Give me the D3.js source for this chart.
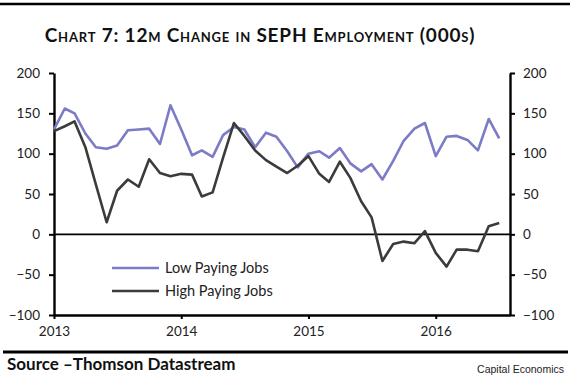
<!DOCTYPE html>
<html>
<head>
<meta charset="utf-8">
<script src="https://cdn.jsdelivr.net/npm/d3@7"></script>
<style>
  body { margin: 0; background: #fff; }
  svg { display: block; }
  .tick text { font-family: Lato, "Open Sans", sans-serif; font-size: 13.5px; fill: #222; }
</style>
</head>
<body>
<svg width="570" height="376"></svg>
<script>
// monthly, Jan 2013 .. Jul 2016
lowPaying = [130, 156, 150, 125, 108, 106, 110, 129, 130, 131, 112, 160,
             130, 98, 104, 96, 123, 133, 130, 108, 126, 121, 103, 83,
             100, 103, 95, 107, 88, 78, 87, 68, 91, 116, 131, 138,
             97, 121, 122, 117, 104, 143, 119];
highPaying = [128, 134, 140, 108, 62, 15, 54, 68, 59, 93, 76, 72,
              75, 74, 47, 52, 95, 138, 122, 104, 92, 84, 76, 85,
              97, 75, 65, 90, 70, 41, 21, -33, -12, -9, -11, 4,
              -23, -40, -19, -19, -21, 10, 14];
yTicks = [-100, -50, 0, 50, 100, 150, 200];
seriesNames = ['Low Paying Jobs', 'High Paying Jobs'];
seriesColors = ['#7b7bc6', '#3b3b3b'];

START = new Date(2013, 0, 1)
months = lowPaying.map(function (d, i) { return d3.timeMonth.offset(START, i); })

X_LEFT = 54
X_RIGHT = 510
Y_TOP = 73
Y_BOTTOM = 315

svg = d3.select('svg')

x = d3.scaleTime()
  .domain([START, new Date(2016, 7, 1)])
  .range([X_LEFT, X_RIGHT])
y = d3.scaleLinear()
  .domain([-100, 200])
  .range([Y_BOTTOM, Y_TOP])

// top rule + title
svg.append('line')
  .attr('x1', 0).attr('x2', 570).attr('y1', 4).attr('y2', 4)
  .attr('stroke', '#000').attr('stroke-width', 2.5)

svg.append('text')
  .attr('x', 260).attr('y', 42)
  .attr('text-anchor', 'middle')
  .style('font-family', 'Lato, sans-serif')
  .style('font-weight', 'bold')
  .style('font-size', '19px')
  .style('letter-spacing', '0.8px')
  .style('font-variant', 'small-caps')
  .style('fill', '#111')
  .text('Chart 7: 12m Change in SEPH Employment (000s)')

// zero line
svg.append('line')
  .attr('x1', X_LEFT).attr('x2', X_RIGHT)
  .attr('y1', y(0)).attr('y2', y(0))
  .attr('stroke', '#000').attr('stroke-width', 1.6)

// axes
yLeft = svg.append('g')
  .attr('transform', 'translate(' + X_LEFT + ',0)')
  .call(d3.axisLeft(y).tickValues(yTicks).tickSize(5).tickSizeOuter(0).tickPadding(9))
yRight = svg.append('g')
  .attr('transform', 'translate(' + X_RIGHT + ',0)')
  .call(d3.axisRight(y).tickValues(yTicks).tickSize(5).tickSizeOuter(0).tickPadding(8))
xAxis = svg.append('g')
  .attr('transform', 'translate(0,' + Y_BOTTOM + ')')
  .call(d3.axisBottom(x).ticks(d3.timeYear.every(1)).tickFormat(d3.timeFormat('%Y'))
        .tickSize(4).tickSizeOuter(0).tickPadding(7))

svg.selectAll('.domain').attr('stroke', '#000').attr('stroke-width', 2.4)
svg.selectAll('.tick line').attr('stroke', '#000').attr('stroke-width', 2)

// series lines
line = d3.line()
  .x(function (d, i) { return x(months[i]); })
  .y(function (d) { return y(d); })

;[lowPaying, highPaying].forEach(function (s, k) {
  svg.append('path')
    .datum(s)
    .attr('d', line)
    .attr('fill', 'none')
    .attr('stroke', seriesColors[k])
    .attr('stroke-width', 2.6)
    .attr('stroke-linejoin', 'round')
})

// legend
legend = svg.selectAll('g.legend')
  .data(seriesNames)
  .enter()
  .append('g')
  .attr('class', 'legend')
  .attr('transform', function (d, i) { return 'translate(112,' + (268 + 23*i) + ')'; })
legend.append('line')
  .attr('x1', 0).attr('x2', 47)
  .attr('stroke', function (d, i) { return seriesColors[i]; })
  .attr('stroke-width', 2.6)
legend.append('text')
  .attr('x', 53).attr('y', 5)
  .style('font-family', 'Lato, sans-serif')
  .style('font-size', '14.5px')
  .style('fill', '#222')
  .text(function (d) { return d; })

// footer
svg.append('line')
  .attr('x1', 3).attr('x2', 568).attr('y1', 352).attr('y2', 352)
  .attr('stroke', '#000').attr('stroke-width', 3)
svg.append('text')
  .attr('x', 7).attr('y', 370)
  .style('font-family', 'Lato, sans-serif')
  .style('font-weight', 'bold')
  .style('font-size', '17px')
  .style('fill', '#111')
  .text('Source \u2013Thomson Datastream')
svg.append('text')
  .attr('x', 564).attr('y', 373)
  .attr('text-anchor', 'end')
  .style('font-family', '"Liberation Sans", Arial, sans-serif')
  .style('font-size', '10.5px')
  .style('fill', '#222')
  .text('Capital Economics')
</script>
</body>
</html>
